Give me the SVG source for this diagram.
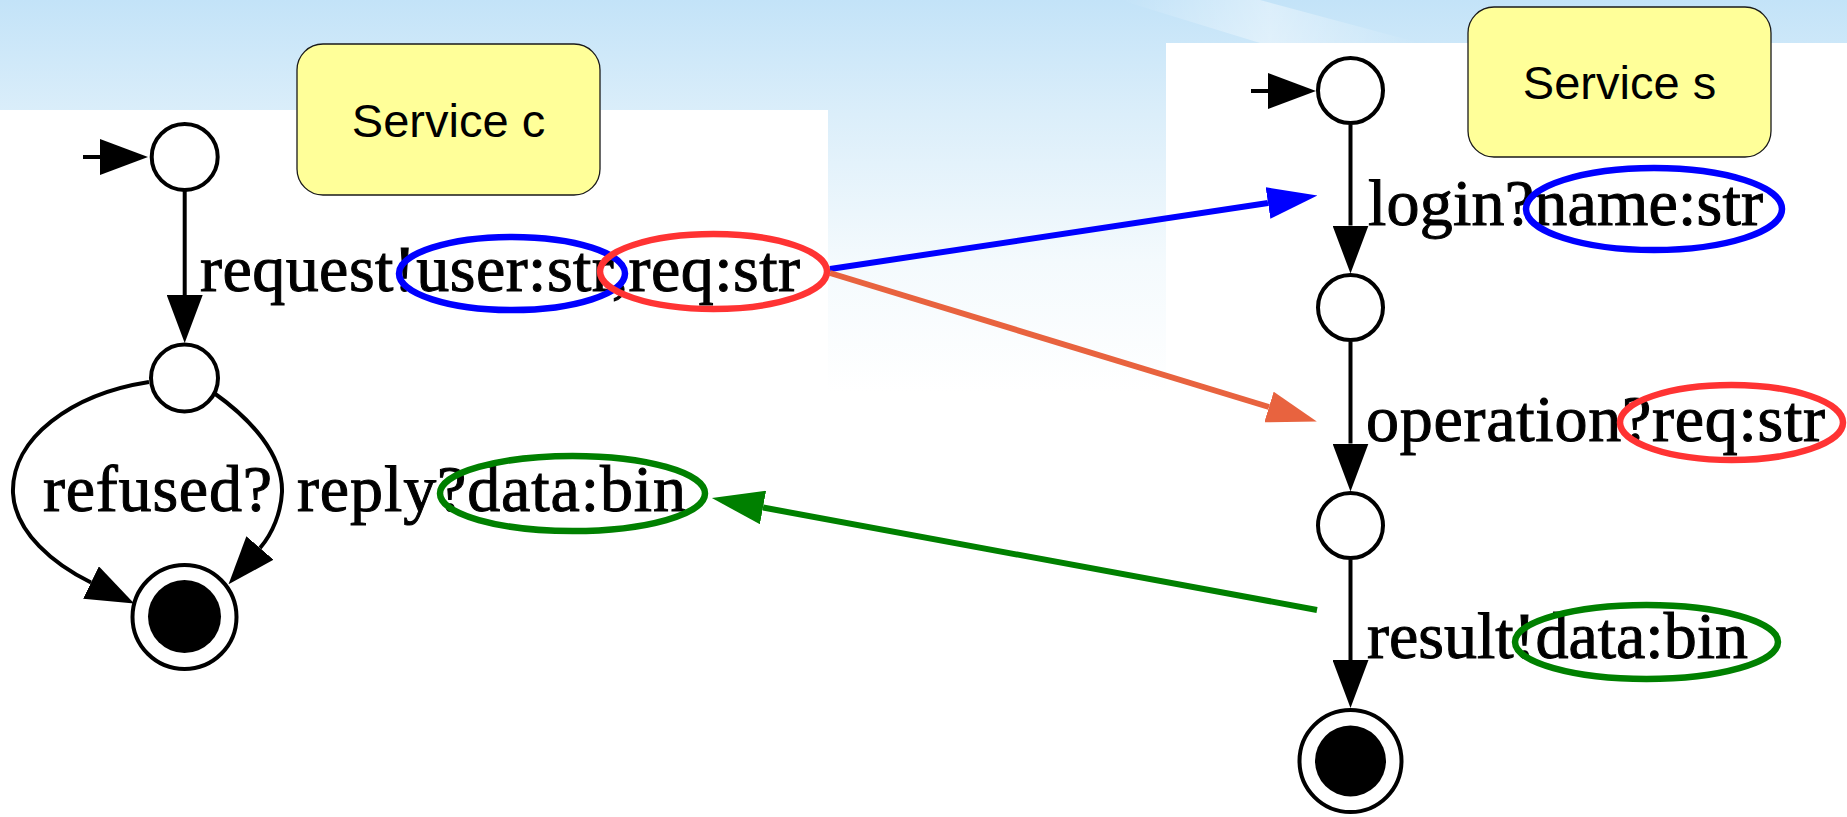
<svg xmlns="http://www.w3.org/2000/svg" width="1847" height="817" viewBox="0 0 1847 817">
  <defs>
    <style>
      .state { fill: #ffffff; stroke: #000000; stroke-width: 4; }
      .final-dot { fill: #000000; stroke: none; }
      .edge { fill: none; stroke: #000000; stroke-width: 4; marker-end: url(#arrow-black); }
      .lbl { font-family: "Liberation Serif", "Times New Roman", serif; font-size: 66px; fill: #000000; stroke: #000000; stroke-width: 1; }
      .svc-box { fill: #ffff99; stroke: #1a1a1a; stroke-width: 1.3; }
      .svc-text { font-family: "Liberation Sans", Arial, sans-serif; font-size: 47px; fill: #000000; text-anchor: middle; }
      .hl { fill: none; stroke-width: 6.5; }
      .link { fill: none; stroke-width: 6; }
    </style>
    <linearGradient id="sky" x1="0" y1="0" x2="0" y2="1">
      <stop offset="0" stop-color="#c3e3f8"/>
      <stop offset="0.14" stop-color="#dbeefa"/>
      <stop offset="0.32" stop-color="#f4fafd"/>
      <stop offset="0.48" stop-color="#ffffff"/>
      <stop offset="1" stop-color="#ffffff"/>
    </linearGradient>
    <linearGradient id="streak" x1="0" y1="0" x2="1" y2="0">
      <stop offset="0" stop-color="#ffffff" stop-opacity="0"/>
      <stop offset="0.5" stop-color="#ffffff" stop-opacity="0.4"/>
      <stop offset="1" stop-color="#ffffff" stop-opacity="0"/>
    </linearGradient>
    <marker id="arrow-black" viewBox="0 0 48 36" refX="0" refY="18" markerWidth="48" markerHeight="36" markerUnits="userSpaceOnUse" orient="auto">
      <path d="M0,0 L48,18 L0,36 Z" fill="#000000"/>
    </marker>
    <marker id="arrow-blue" viewBox="0 0 50 32" refX="0" refY="16" markerWidth="50" markerHeight="32" markerUnits="userSpaceOnUse" orient="auto">
      <path d="M0,0 L50,16 L0,32 Z" fill="#0000ff"/>
    </marker>
    <marker id="arrow-orange" viewBox="0 0 50 32" refX="0" refY="16" markerWidth="50" markerHeight="32" markerUnits="userSpaceOnUse" orient="auto">
      <path d="M0,0 L50,16 L0,32 Z" fill="#e8633f"/>
    </marker>
    <marker id="arrow-green" viewBox="0 0 52 34" refX="0" refY="17" markerWidth="52" markerHeight="34" markerUnits="userSpaceOnUse" orient="auto">
      <path d="M0,0 L52,17 L0,34 Z" fill="#008000"/>
    </marker>
  </defs>

  <!-- slide background -->
  <rect x="0" y="0" width="1847" height="817" fill="url(#sky)"/>
  <path d="M1120,0 L1260,0 L1420,43 L1260,43 Z" fill="url(#streak)"/>

  <!-- white drawing panels -->
  <rect x="0" y="110" width="828" height="707" fill="#ffffff"/>
  <rect x="1166" y="43" width="681" height="774" fill="#ffffff"/>

  <!-- service titles -->
  <g id="service-c">
    <rect class="svc-box" x="297" y="44" width="303" height="151" rx="26" ry="26"/>
    <text class="svc-text" x="448.5" y="137">Service c</text>
  </g>
  <g id="service-s">
    <rect class="svc-box" x="1468" y="7" width="303" height="150" rx="26" ry="26"/>
    <text class="svc-text" x="1619.5" y="99">Service s</text>
  </g>

  <!-- transitions and message links -->
  <g id="connectors">
    <!-- service c -->
    <line class="edge" x1="83" y1="157" x2="100" y2="157"/>
    <line class="edge" x1="184.7" y1="191" x2="184.7" y2="295"/>
    <path class="edge" d="M149,382 C72,394 11,438 13,493 C15,533 55,565 91,582.5"/>
    <path class="edge" d="M214,393 C252,420 283,455 282,492 C281,512 273,533 260,548"/>
    <!-- service s -->
    <line class="edge" x1="1251" y1="91" x2="1268" y2="91"/>
    <line class="edge" x1="1350.5" y1="124.5" x2="1350.5" y2="225.5"/>
    <line class="edge" x1="1350.5" y1="341.5" x2="1350.5" y2="443.5"/>
    <line class="edge" x1="1350.5" y1="559.5" x2="1350.5" y2="660"/>
    <!-- message correspondences -->
    <line class="link" x1="830" y1="269" x2="1268" y2="203" stroke="#0000ff" marker-end="url(#arrow-blue)"/>
    <line class="link" x1="830" y1="273" x2="1269" y2="407" stroke="#e8633f" marker-end="url(#arrow-orange)"/>
    <line class="link" x1="1317" y1="610" x2="763" y2="507.5" stroke="#008000" stroke-width="6.5" marker-end="url(#arrow-green)"/>
  </g>

  <!-- transition labels -->
  <g id="labels">
    <text class="lbl" x="200" y="291" textLength="600" lengthAdjust="spacing">request!user:str,req:str</text>
    <text class="lbl" x="43" y="511" textLength="229" lengthAdjust="spacing">refused?</text>
    <text class="lbl" x="297" y="511" textLength="389" lengthAdjust="spacing">reply?data:bin</text>
    <text class="lbl" x="1368" y="225" textLength="395" lengthAdjust="spacing">login?name:str</text>
    <text class="lbl" x="1366" y="441" textLength="459" lengthAdjust="spacing">operation?req:str</text>
    <text class="lbl" x="1367" y="658" textLength="381" lengthAdjust="spacing">result!data:bin</text>
  </g>

  <!-- states of service c -->
  <g id="c-init"><circle class="state" cx="184.7" cy="157" r="33"/></g>
  <g id="c-wait"><circle class="state" cx="184.5" cy="378" r="33.5"/></g>
  <g id="c-final">
    <circle class="state" cx="184.5" cy="617" r="52"/>
    <circle class="final-dot" cx="184.5" cy="616.5" r="36.5"/>
  </g>

  <!-- states of service s -->
  <g id="s-init"><circle class="state" cx="1350.5" cy="90.5" r="32.5"/></g>
  <g id="s-logged"><circle class="state" cx="1350.5" cy="307.5" r="32.5"/></g>
  <g id="s-working"><circle class="state" cx="1350.5" cy="525.5" r="32.5"/></g>
  <g id="s-final">
    <circle class="state" cx="1350.5" cy="761" r="51"/>
    <circle class="final-dot" cx="1350.5" cy="761" r="35.5"/>
  </g>

  <!-- parameter highlights -->
  <g id="highlights">
    <ellipse class="hl" cx="512" cy="273.5" rx="113" ry="36.5" stroke="#0000ff"/>
    <ellipse class="hl" cx="713.5" cy="271.5" rx="113.5" ry="37.5" stroke="#ff3333"/>
    <ellipse class="hl" cx="572.5" cy="493.5" rx="132.5" ry="37.5" stroke="#008000"/>
    <ellipse class="hl" cx="1654" cy="209" rx="128" ry="41" stroke="#0000ff"/>
    <ellipse class="hl" cx="1731.5" cy="422.5" rx="111.5" ry="37.5" stroke="#ff3333"/>
    <ellipse class="hl" cx="1646.5" cy="642" rx="131.5" ry="37" stroke="#008000"/>
  </g>
</svg>
